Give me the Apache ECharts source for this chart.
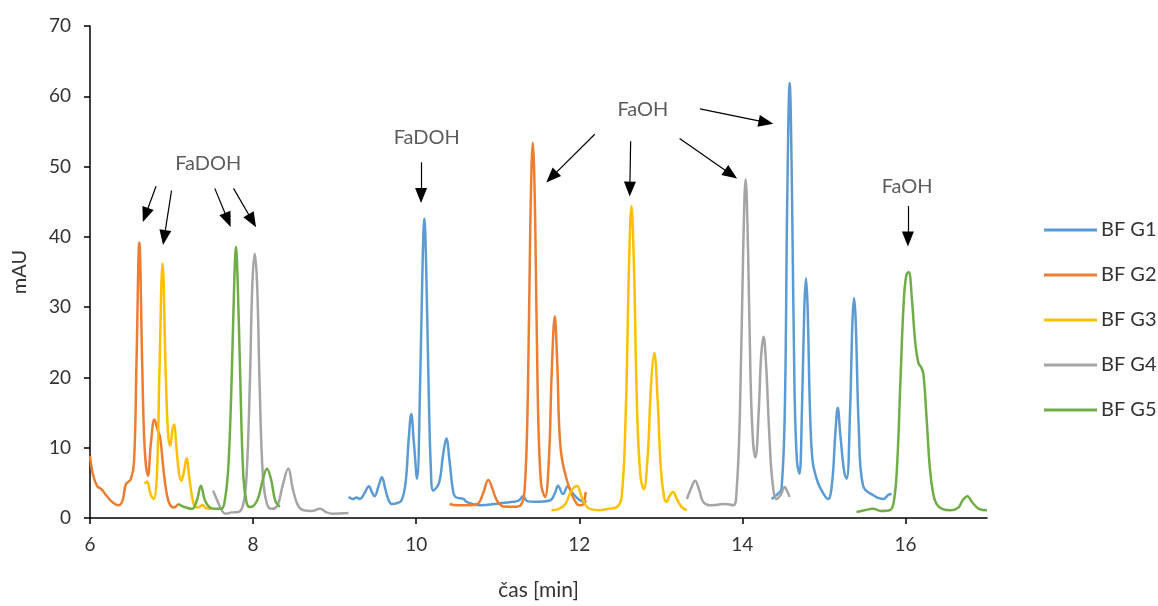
<!DOCTYPE html>
<html>
<head>
<meta charset="utf-8">
<script src="https://cdn.jsdelivr.net/npm/echarts@6.0.0/dist/echarts.min.js"></script>
<style>
  html, body { margin: 0; padding: 0; background: #fff; }
  #main { width: 1158px; height: 606px; }
</style>
</head>
<body>
<div id="main"></div>
<script>
// chromatogram traces, [time min, mAU], one list per recorded window
var bfG1 = [
  [[9.17, 3.0], [9.22, 2.7], [9.27, 2.9], [9.31, 2.7], [9.36, 3.4], [9.42, 4.5], [9.46, 3.6], [9.49, 3.1], [9.54, 4.6], [9.58, 5.8], [9.62, 4.2], [9.66, 2.6], [9.70, 2.0], [9.76, 2.1], [9.82, 2.5], [9.87, 5], [9.91, 11.5], [9.94, 14.8], [9.97, 11], [10.01, 5.6], [10.05, 20], [10.08, 37], [10.10, 42.6], [10.12, 37], [10.15, 20], [10.18, 7], [10.21, 3.9], [10.28, 5], [10.33, 9], [10.37, 11.3], [10.41, 8], [10.45, 4], [10.48, 3.0], [10.58, 2.7], [10.62, 2.3], [10.78, 1.8], [11.03, 2.1], [11.19, 2.3], [11.26, 2.5], [11.31, 3.1], [11.36, 2.4], [11.44, 2.3], [11.64, 2.5], [11.70, 3.5], [11.74, 4.6], [11.80, 3.4], [11.86, 4.5], [11.92, 3.5], [12.01, 2.5], [12.09, 2.3]],
  [[14.36, 2.7], [14.44, 3.5], [14.48, 4.1], [14.52, 15], [14.55, 45], [14.58, 61.9], [14.61, 45], [14.64, 18], [14.67, 8], [14.70, 6.3], [14.73, 15], [14.76, 30], [14.78, 34.1], [14.80, 30], [14.83, 15], [14.86, 8.2], [14.90, 6], [14.95, 4.4], [15.05, 2.7], [15.10, 5], [15.14, 12], [15.17, 15.7], [15.20, 12], [15.25, 6.5], [15.28, 5.6], [15.32, 15], [15.35, 28], [15.37, 31.3], [15.39, 28], [15.43, 12], [15.48, 4.6], [15.61, 3.2], [15.73, 2.7], [15.79, 3.3], [15.83, 3.4]]
];
var bfG2 = [
  [[6.00, 8.8], [6.04, 6.0], [6.09, 4.5], [6.14, 4.1], [6.20, 3.2], [6.28, 2.2], [6.35, 1.8], [6.40, 2.5], [6.44, 4.8], [6.50, 5.5], [6.54, 8], [6.57, 22], [6.605, 39.2], [6.64, 22], [6.67, 10], [6.71, 6.0], [6.75, 11], [6.79, 14.0], [6.83, 12.5], [6.86, 11.5], [6.90, 7], [6.94, 3.5], [6.98, 1.9], [7.03, 1.5], [7.08, 2.0]],
  [[10.41, 2.0], [10.50, 1.8], [10.62, 1.8], [10.75, 2.0], [10.82, 3.5], [10.885, 5.4], [10.94, 4], [10.99, 2.5], [11.07, 1.65], [11.20, 1.6], [11.28, 1.8], [11.33, 4], [11.37, 18], [11.40, 42], [11.43, 53.4], [11.46, 42], [11.49, 18], [11.53, 5], [11.58, 3.0], [11.63, 9], [11.66, 20], [11.70, 28.7], [11.73, 22], [11.77, 10], [11.85, 5.3], [11.97, 2.0], [12.03, 1.8], [12.08, 3.7]]
];
var bfG3 = [
  [[6.67, 4.9], [6.70, 5.2], [6.74, 3.5], [6.78, 2.7], [6.82, 6], [6.85, 20], [6.89, 36.2], [6.93, 20], [6.96, 11.5], [6.985, 10.3], [7.01, 12.5], [7.03, 13.3], [7.06, 10], [7.09, 6.5], [7.12, 5.3], [7.15, 6.5], [7.185, 8.5], [7.22, 5.5], [7.26, 2.5], [7.29, 1.6], [7.33, 1.5], [7.38, 1.9], [7.42, 1.4], [7.49, 1.3]],
  [[11.66, 1.1], [11.75, 1.3], [11.83, 2], [11.90, 3.8], [11.97, 4.6], [12.03, 3], [12.08, 1.8], [12.13, 1.3], [12.25, 1.1], [12.35, 1.3], [12.46, 1.55], [12.52, 3], [12.57, 15], [12.61, 36], [12.64, 44.4], [12.67, 36], [12.71, 15], [12.75, 6], [12.79, 4.1], [12.84, 9], [12.88, 19], [12.92, 23.5], [12.96, 17], [13.00, 7], [13.04, 3], [13.07, 2.3], [13.11, 3.2], [13.15, 3.7], [13.20, 2.6], [13.26, 1.5], [13.32, 1.1]]
];
var bfG4 = [
  [[7.51, 3.9], [7.56, 2.5], [7.62, 1.0], [7.66, 0.6], [7.74, 0.8], [7.82, 0.85], [7.88, 2], [7.92, 6], [7.96, 19], [7.99, 33], [8.02, 37.6], [8.05, 33], [8.08, 19], [8.12, 6], [8.17, 2], [8.23, 1.3], [8.30, 1.8], [8.36, 4.5], [8.43, 7.0], [8.49, 4.0], [8.55, 1.8], [8.62, 1.1], [8.72, 1.0], [8.82, 1.3], [8.90, 0.8], [8.98, 0.6], [9.17, 0.7]],
  [[13.32, 2.7], [13.37, 4.2], [13.42, 5.3], [13.47, 4], [13.52, 2.3], [13.60, 1.8], [13.70, 1.9], [13.79, 2.0], [13.89, 1.8], [13.93, 4], [13.97, 15], [14.01, 38], [14.04, 48.2], [14.07, 38], [14.10, 20], [14.13, 11], [14.16, 8.6], [14.20, 15], [14.23, 23], [14.26, 25.8], [14.29, 22], [14.33, 12], [14.37, 5], [14.42, 2.7], [14.47, 3.3], [14.52, 4.4], [14.55, 3.8], [14.58, 3.0]]
];
var bfG5 = [
  [[7.08, 2.0], [7.15, 1.6], [7.25, 1.3], [7.31, 2.5], [7.36, 4.6], [7.41, 2.5], [7.47, 1.5], [7.55, 1.3], [7.61, 1.3], [7.66, 3], [7.70, 8], [7.74, 21], [7.77, 34], [7.79, 38.6], [7.81, 34], [7.84, 21], [7.88, 6], [7.92, 2.2], [7.96, 1.55], [8.05, 2.5], [8.12, 5.5], [8.17, 7.0], [8.22, 5.5], [8.27, 2.5], [8.31, 1.8], [8.33, 1.6]],
  [[15.40, 0.85], [15.50, 1.1], [15.60, 1.3], [15.70, 1.0], [15.81, 1.1], [15.86, 2.5], [15.90, 8], [15.94, 20], [15.98, 31], [16.01, 34.5], [16.04, 35.0], [16.08, 31], [16.12, 25], [16.16, 22], [16.19, 21.5], [16.22, 20.5], [16.26, 14], [16.30, 7], [16.34, 3.5], [16.38, 2.0], [16.45, 1.3], [16.55, 1.1], [16.65, 1.5], [16.70, 2.5], [16.76, 3.1], [16.82, 2.2], [16.90, 1.3], [17.00, 1.1]]
];

var seriesNames = ["BF G1", "BF G2", "BF G3", "BF G4", "BF G5"];
var seriesColors = ["#5B9BD5", "#ED7D31", "#FFC000", "#A5A5A5", "#70AD47"];
var traces = [bfG1, bfG2, bfG3, bfG4, bfG5];

var xTicks = [6, 8, 10, 12, 14, 16];

// annotation labels and arrows (data coordinates)
var noteLabels = [["FaDOH", 7.45, 50.5], ["FaDOH", 10.13, 54.2], ["FaOH", 12.78, 58.1], ["FaOH", 16.02, 47.1]];
var noteArrows = [
  [[6.81, 47.2], [6.68, 43.1]],
  [[7.00, 46.6], [6.91, 39.9]],
  [[7.53, 46.9], [7.69, 42.4]],
  [[7.76, 46.9], [7.99, 42.3]],
  [[10.06, 50.6], [10.06, 45.9]],
  [[12.19, 54.6], [11.66, 48.5]],
  [[12.63, 53.6], [12.62, 46.8]],
  [[13.23, 54.0], [13.86, 48.9]],
  [[13.48, 58.2], [14.29, 56.3]],
  [[16.03, 44.4], [16.03, 39.7]]
];

var font = "Lato";
var textColor = "#333";

// join windows with a gap so they are not connected
function joinSegments(segs) {
  var out = [];
  segs.forEach(function (s, i) {
    if (i > 0) out.push(["-", "-"]);
    out = out.concat(s);
  });
  return out;
}

var series = traces.map(function (t, i) {
  return {
    name: seriesNames[i],
    type: "line",
    data: joinSegments(t),
    showSymbol: false,
    symbol: "none",
    smooth: 0.4,
    connectNulls: false,
    color: seriesColors[i],
    lineStyle: { width: 2.5, color: seriesColors[i] },
    emphasis: { disabled: true },
    z: 2 + i
  };
});

series.push({
  name: "notes",
  type: "scatter",
  data: noteLabels.map(function (n) { return { name: n[0], value: [n[1], n[2]] }; }),
  symbolSize: 0,
  silent: true,
  label: {
    show: true,
    position: "inside",
    formatter: "{b}",
    fontFamily: font,
    fontSize: 20,
    color: textColor
  },
  markLine: {
    silent: true,
    symbol: ["none", "triangle"],
    symbolSize: [12, 15],
    label: { show: false },
    lineStyle: { color: "#000", width: 1.2, type: "solid" },
    emphasis: { disabled: true },
    data: noteArrows.map(function (a) {
      return [{ coord: a[0] }, { coord: a[1] }];
    })
  },
  z: 10
});

var myChart = echarts.init(document.getElementById("main"));

var option = {
  animation: false,
  backgroundColor: "#fff",
  grid: { left: 90, right: 171, top: 26, bottom: 85 },
  legend: {
    data: seriesNames.map(function (n) { return { name: n, icon: "rect" }; }),
    orient: "vertical",
    left: 1039,
    top: 215,
    itemWidth: 53,
    itemHeight: 3,
    itemGap: 25,
    textStyle: { fontFamily: font, fontSize: 20, color: textColor, padding: [0, 0, 0, -1] }
  },
  xAxis: {
    type: "value",
    min: 6,
    max: 17,
    interval: 2,
    name: "čas [min]",
    nameLocation: "middle",
    nameGap: 62,
    nameTextStyle: { fontFamily: font, fontSize: 21, color: textColor },
    axisLine: { show: true, lineStyle: { color: "#000", width: 1.5 } },
    axisTick: { show: true, inside: false, length: 6, customValues: xTicks, lineStyle: { color: "#000", width: 1.5 } },
    axisLabel: { customValues: xTicks, fontFamily: font, fontSize: 19, color: textColor, margin: 17 },
    splitLine: { show: false }
  },
  yAxis: {
    type: "value",
    min: 0,
    max: 70,
    interval: 10,
    name: "mAU",
    nameLocation: "middle",
    nameGap: 60,
    nameTextStyle: { fontFamily: font, fontSize: 20, color: textColor },
    axisLine: { show: true, lineStyle: { color: "#000", width: 1.5 } },
    axisTick: { show: true, inside: false, length: 6, lineStyle: { color: "#000", width: 1.5 } },
    axisLabel: { fontFamily: font, fontSize: 19, color: textColor, margin: 19 },
    splitLine: { show: false }
  },
  series: series
};

myChart.setOption(option);
</script>
</body>
</html>
